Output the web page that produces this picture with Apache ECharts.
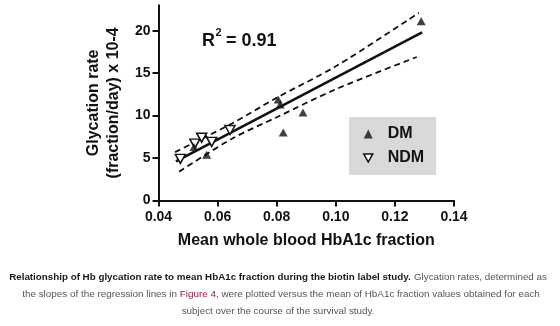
<!DOCTYPE html>
<html><head><meta charset="utf-8">
<script src="https://cdn.jsdelivr.net/npm/echarts@6/dist/echarts.min.js"></script>
<style>html,body{margin:0;padding:0;background:#fff}#c{width:560px;height:326px}</style>
</head><body><div id="c"></div>
<script>
var dmPoints = [[0.0520,6.3],[0.0563,5.4],[0.0805,11.9],[0.0812,11.3],[0.0822,8.0],[0.0889,10.35],[0.1289,21.1]];
var ndmPoints = [[0.0474,4.9],[0.0523,6.7],[0.0546,7.4],[0.0580,6.9],[0.0642,8.3]];
var fitLine = [[0.0459,4.6],[0.1292,19.8]];
var upperBand = [[0.0456,5.7],[0.065,9.1],[0.08,12.1],[0.10,15.8],[0.1281,22.1]];
var lowerBand = [[0.047,3.4],[0.065,7.3],[0.08,9.8],[0.10,13.1],[0.1274,16.9]];
var xTicks = [0.04,0.06,0.08,0.10,0.12,0.14];
var yTicks = [0,5,10,15,20];
var seriesNames = ['DM','NDM'];

var downTri = 'path://M0,0 L10,0 L5,9 Z';
var chart = echarts.init(document.getElementById('c'));
var ink = '#111';
var capSize = 9.9;
chart.setOption({
  animation:false,
  backgroundColor:'#fff',
  grid:{left:158.5,right:106,top:5.2,bottom:125.5,containLabel:false},
  xAxis:{type:'value',min:0.04,max:0.14,interval:0.02,
    name:'Mean whole blood HbA1c fraction',nameLocation:'middle',nameGap:32,
    nameTextStyle:{fontFamily:'Liberation Sans',fontWeight:'bold',fontSize:16,color:ink},
    axisLine:{lineStyle:{color:ink,width:2}},
    axisTick:{show:true,length:6,lineStyle:{color:ink,width:2},customValues:xTicks},
    axisLabel:{fontFamily:'Liberation Sans',fontWeight:'bold',fontSize:14,color:ink,margin:10,
      customValues:xTicks,formatter:function(v){return v.toFixed(2);}},
    splitLine:{show:false}},
  yAxis:{type:'value',min:0,max:23,interval:5,
    name:'Glycation rate\n(fraction/day) x 10-4',nameLocation:'middle',nameGap:26,nameRotate:90,
    nameTextStyle:{fontFamily:'Liberation Sans',fontWeight:'bold',fontSize:16,color:ink,lineHeight:20},
    axisLine:{show:true,lineStyle:{color:ink,width:2}},
    axisTick:{show:true,length:6,lineStyle:{color:ink,width:2},customValues:yTicks},
    axisLabel:{fontFamily:'Liberation Sans',fontWeight:'bold',fontSize:14,color:ink,margin:8,customValues:yTicks},
    splitLine:{show:false}},
  legend:{left:349,top:117,orient:'vertical',backgroundColor:'#d9d9d9',
    padding:[9,12,9,14],itemWidth:9,itemHeight:9,itemGap:8,
    textStyle:{fontFamily:'Liberation Sans',fontWeight:'bold',fontSize:16,color:ink,lineHeight:16,padding:[0,0,0,10]},
    data:[{name:seriesNames[0],icon:'triangle',itemStyle:{color:ink,borderWidth:0}},
          {name:seriesNames[1],icon:downTri,itemStyle:{color:'#fff',borderColor:ink,borderWidth:1.5}}]},
  series:[
    {type:'line',data:fitLine,symbol:'none',lineStyle:{color:ink,width:2.6},silent:true,z:2},
    {type:'line',data:upperBand,symbol:'none',smooth:0.3,lineStyle:{color:ink,width:1.8,type:[6,4]},silent:true,z:2},
    {type:'line',data:lowerBand,symbol:'none',smooth:0.3,lineStyle:{color:ink,width:1.8,type:[6,4]},silent:true,z:2},
    {name:seriesNames[0],type:'scatter',data:dmPoints,symbol:'triangle',symbolSize:[9,8],itemStyle:{color:ink},z:4},
    {name:seriesNames[1],type:'scatter',data:ndmPoints,symbol:downTri,symbolSize:[10,9],itemStyle:{color:'#fff',borderColor:ink,borderWidth:1.5,opacity:1},z:3}
  ],
  graphic:[
    {type:'text',left:202,top:32,style:{text:'R',font:'bold 18px "Liberation Sans"',fill:ink}},
    {type:'text',left:215.5,top:27,style:{text:'2',font:'bold 11px "Liberation Sans"',fill:ink}},
    {type:'text',left:226,top:32,style:{text:'= 0.91',font:'bold 18px "Liberation Sans"',fill:ink}},
    {type:'text',x:278,y:277,style:{text:'{b|Relationship of Hb glycation rate to mean HbA1c fraction during the biotin label study.} {n|Glycation rates, determined as}',
      align:'center',verticalAlign:'middle',
      rich:{b:{font:'bold 9.8px "Liberation Sans"',fill:'#1a1a1a'},n:{font:'9.8px "Liberation Sans"',fill:'#555'}}}},
    {type:'text',x:281,y:294,style:{text:'{n|the slopes of the regression lines in }{r|Figure 4}{n|, were plotted versus the mean of HbA1c fraction values obtained for each}',
      align:'center',verticalAlign:'middle',
      rich:{n:{font:capSize+'px "Liberation Sans"',fill:'#555'},r:{font:capSize+'px "Liberation Sans"',fill:'#8c1c3c'}}}},
    {type:'text',x:278,y:311,style:{text:'subject over the course of the survival study.',
      align:'center',verticalAlign:'middle',font:'9.8px "Liberation Sans"',fill:'#555'}}
  ]
});
</script></body></html>
